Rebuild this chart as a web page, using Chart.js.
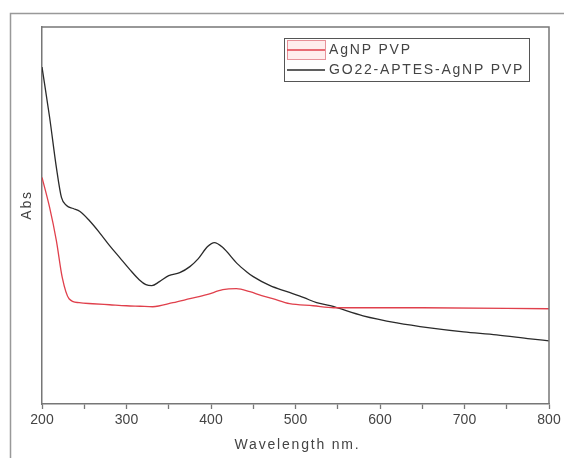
<!DOCTYPE html>
<html lang="en">
<head>
    <meta charset="UTF-8">
    <title>Abs spectra</title>
    <style>
        body { margin: 0; background: #fff; }
        #chart { display: block; }
    </style>
</head>
<body>
<canvas id="chart" width="564" height="458"></canvas>

<script src="https://cdn.jsdelivr.net/npm/chart.js@4.4.0/dist/chart.umd.min.js"></script>
<script>
// data (arbitrary absorbance units)
var agWavelength = [200, 209, 217, 224, 232, 244, 260, 280, 300, 316, 331, 355, 375, 395, 414, 430, 446, 460, 473, 493, 521, 545, 650, 800];
var agAbs        = [2.28, 1.98, 1.65, 1.28, 1.07, 1.03, 1.02, 1.01, 1.00, 0.995, 0.99, 1.03, 1.07, 1.11, 1.16, 1.17, 1.14, 1.10, 1.07, 1.02, 1.00, 0.98, 0.98, 0.97];

var goWavelength = [200, 209, 217, 223, 229, 237, 245, 256, 268, 280, 292, 304, 315, 323, 330, 339, 350, 363, 375, 385, 396, 404, 414, 431, 442, 450, 470, 490, 510, 525, 541, 580, 620, 659, 699, 738, 778, 800];
var goAbs        = [3.38, 2.88, 2.38, 2.08, 2.00, 1.97, 1.94, 1.85, 1.73, 1.60, 1.48, 1.36, 1.26, 1.21, 1.20, 1.24, 1.30, 1.33, 1.39, 1.47, 1.59, 1.63, 1.58, 1.42, 1.34, 1.29, 1.20, 1.14, 1.08, 1.03, 1.00, 0.90, 0.83, 0.78, 0.74, 0.71, 0.67, 0.65];

var seriesNames = ["AgNP PVP", "GO22-APTES-AgNP PVP"];
var xTickValues = [200, 300, 400, 500, 600, 700, 800];

function toPoints(xs, ys) {
    var pts = [];
    for (var i = 0; i < xs.length; i++) pts.push({ x: xs[i], y: ys[i] });
    return pts;
}

var FONT = '14px "Liberation Sans", Arial, sans-serif';
var TEXT = '#444';
var FRAME = '#777';

var decorations = {
    id: 'decorations',
    beforeDraw: function (chart) {
        var ctx = chart.ctx;
        ctx.save();
        // outer frame (runs off the right and bottom)
        ctx.strokeStyle = '#999';
        ctx.lineWidth = 1.5;
        ctx.beginPath();
        ctx.moveTo(10.5, chart.height);
        ctx.lineTo(10.5, 13.5);
        ctx.lineTo(chart.width, 13.5);
        ctx.stroke();
        ctx.restore();
    },
    afterDraw: function (chart) {
        var ctx = chart.ctx;
        var a = chart.chartArea;
        ctx.save();
        // top and right edge of the plot box
        ctx.strokeStyle = FRAME;
        ctx.lineWidth = 1.5;
        ctx.beginPath();
        ctx.moveTo(a.left, a.top);
        ctx.lineTo(a.right, a.top);
        ctx.lineTo(a.right, a.bottom);
        ctx.stroke();

        // axis titles
        ctx.fillStyle = TEXT;
        ctx.font = FONT;
        ctx.letterSpacing = '1.8px';
        ctx.textAlign = 'center';
        ctx.textBaseline = 'middle';
        ctx.fillText('Wavelength nm.', (a.left + a.right) / 2 + 2, 445);
        ctx.save();
        ctx.translate(a.left - 15, a.top + 178);
        ctx.rotate(-Math.PI / 2);
        ctx.fillText('Abs', 0, 0);
        ctx.restore();

        // legend
        var lx = a.right - 265, ly = a.top + 11, lw = 245, lh = 43;
        ctx.strokeStyle = '#555';
        ctx.lineWidth = 1;
        ctx.strokeRect(lx + 0.5, ly + 0.5, lw, lh);

        var ds = chart.data.datasets;
        ctx.fillStyle = 'rgba(255, 215, 215, 0.45)';
        ctx.strokeStyle = 'rgba(225, 120, 130, 0.8)';
        ctx.fillRect(lx + 3, ly + 2, 38, 19);
        ctx.strokeRect(lx + 3.5, ly + 2.5, 38, 19);

        for (var i = 0; i < ds.length; i++) {
            var y = ly + 12 + i * 20;
            ctx.strokeStyle = ds[i].borderColor;
            ctx.lineWidth = 1.3;
            ctx.beginPath();
            ctx.moveTo(lx + 3, y);
            ctx.lineTo(lx + 41, y);
            ctx.stroke();
            ctx.fillStyle = TEXT;
            ctx.textAlign = 'left';
            ctx.fillText(ds[i].label, lx + 45, y);
        }
        ctx.restore();
    }
};

var ctx = document.getElementById('chart').getContext('2d');
var myChart = new Chart(ctx, {
    type: 'line',
    data: {
        datasets: [{
            label: seriesNames[0],
            data: toPoints(agWavelength, agAbs),
            borderColor: '#e0404c',
            borderWidth: 1.3,
            pointRadius: 0,
            cubicInterpolationMode: 'monotone',
            fill: false
        }, {
            label: seriesNames[1],
            data: toPoints(goWavelength, goAbs),
            borderColor: '#2a2a2a',
            borderWidth: 1.3,
            pointRadius: 0,
            cubicInterpolationMode: 'monotone',
            fill: false
        }]
    },
    options: {
        responsive: false,
        animation: false,
        layout: { padding: { top: 27, right: 15, left: 0, bottom: 0 } },
        plugins: {
            legend: { display: false },
            tooltip: { enabled: false }
        },
        scales: {
            x: {
                type: 'linear',
                min: 200,
                max: 800,
                afterFit: function (scale) { scale.height = 54; },
                ticks: {
                    stepSize: 50,
                    autoSkip: false,
                    maxRotation: 0,
                    padding: 3,
                    color: TEXT,
                    font: { family: '"Liberation Sans", Arial, sans-serif', size: 14 },
                    callback: function (v) { return xTickValues.indexOf(v) >= 0 ? v : ''; }
                },
                grid: {
                    drawOnChartArea: false,
                    tickLength: 5,
                    tickColor: FRAME,
                    tickWidth: 1.3
                },
                border: { color: FRAME, width: 1.5 }
            },
            y: {
                min: 0.02,
                max: 3.78,
                afterFit: function (scale) { scale.width = 42; },
                ticks: { display: false },
                grid: { display: false },
                border: { display: true, color: FRAME, width: 1.5 }
            }
        }
    },
    plugins: [decorations]
});
</script>
</body>
</html>
